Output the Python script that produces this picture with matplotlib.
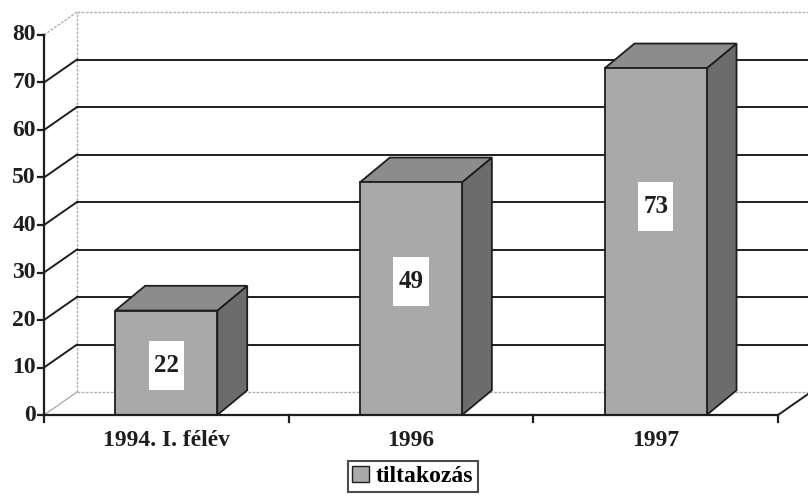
import matplotlib
matplotlib.use("Agg")
import matplotlib.pyplot as plt
from matplotlib.patches import Polygon, Rectangle, Patch

categories = ["1994. I. félév", "1996", "1997"]
values = [22, 49, 73]
series_name = "tiltakozás"
y_ticks = [0, 10, 20, 30, 40, 50, 60, 70, 80]

# 3d look, in data units (x: categories, y: values)
DX, DY = 0.135, 4.84      # depth of the back wall
BDX, BDY = 0.122, 5.2     # depth of the bars
BAR_W = 0.417

FRONT = "#a9a9a9"
TOP = "#8c8c8c"
SIDE = "#6c6c6c"
INK = "#1e1e1e"
FAINT = "#b0b0b0"

plt.rcParams["font.family"] = ["Liberation Serif", "DejaVu Serif"]
plt.rcParams["font.weight"] = "bold"

fig = plt.figure(figsize=(8.08, 4.98), dpi=100)
W, H = 808, 498
ax = fig.add_axes([44 / W, (H - 415) / H, (778 - 44) / W, (415 - 35) / H])
ax.set_xlim(0, 3)
ax.set_ylim(0, 80)
ax.axis("off")

kw = dict(clip_on=False)

# back wall and floor edges
ax.plot([DX, DX], [DY, 80 + DY], color=FAINT, lw=1, ls=(0, (2, 1)), **kw)
ax.plot([DX, 3 + DX + 0.2], [80 + DY, 80 + DY], color=FAINT, lw=1, ls=(0, (2, 1)), **kw)
ax.plot([DX, 3 + DX + 0.2], [DY, DY], color=FAINT, lw=1, ls=(0, (2, 1)), **kw)
ax.plot([0, DX], [0, DY], color=FAINT, lw=1, **kw)
ax.plot([0, DX], [80, 80 + DY], color=FAINT, lw=1, ls=(0, (2, 1)), **kw)
ax.plot([3, 3 + DX], [0, DY], color=INK, lw=1.4, **kw)

# gridlines: diagonal on the side wall, then across the back wall
for t in y_ticks[1:-1]:
    ax.plot([0, DX], [t, t + DY], color=INK, lw=1.4, **kw)
    ax.plot([DX, 3 + DX + 0.2], [t + DY, t + DY], color=INK, lw=1.4, **kw)

# bars
for i, v in enumerate(values):
    x0 = i + 0.5 - BAR_W / 2
    x1 = i + 0.5 + BAR_W / 2
    front = Polygon([(x0, 0), (x1, 0), (x1, v), (x0, v)], closed=True,
                    facecolor=FRONT, edgecolor=INK, lw=1.3, zorder=3, **kw)
    top = Polygon([(x0, v), (x1, v), (x1 + BDX, v + BDY), (x0 + BDX, v + BDY)], closed=True,
                  facecolor=TOP, edgecolor=INK, lw=1.3, zorder=3, **kw)
    side = Polygon([(x1, 0), (x1 + BDX, BDY), (x1 + BDX, v + BDY), (x1, v)], closed=True,
                   facecolor=SIDE, edgecolor=INK, lw=1.3, zorder=3, **kw)
    for p in (side, top, front):
        ax.add_patch(p)
    # white label box, a bit taller than wide
    ly = 0.653 * v - 3.86
    bw, bh = 0.145, 10.3
    ax.add_patch(Rectangle((i + 0.5 - bw / 2, ly - bh / 2), bw, bh,
                           facecolor="white", edgecolor="none", zorder=4, **kw))
    ax.text(i + 0.5, ly, str(v), ha="center", va="center", fontsize=18,
            color=INK, zorder=5)

# front axes
ax.plot([0, 0], [0, 80], color=INK, lw=1.6, zorder=4, **kw)
ax.plot([0, 3], [0, 0], color=INK, lw=1.6, zorder=4, **kw)
for t in y_ticks:
    ax.plot([-0.025, 0], [t, t], color=INK, lw=1.6, **kw)
    ax.text(-0.033, t, str(t), ha="right", va="center", fontsize=17, color=INK)
for k in range(4):
    ax.plot([k, k], [0, -1.4], color=INK, lw=1.6, **kw)

for i, c in enumerate(categories):
    ax.text(i + 0.5, -5.4, c, ha="center", va="center", fontsize=17, color=INK)

# legend
leg = fig.legend(handles=[Patch(facecolor=FRONT, edgecolor=INK, label=series_name)],
                 loc="upper center", bbox_to_anchor=(413 / W, (H - 461) / H),
                 frameon=True, fancybox=False, fontsize=17, handlelength=0.7,
                 handleheight=0.7, handletextpad=0.3, borderpad=0.2,
                 borderaxespad=0)
leg.get_frame().set_edgecolor(INK)
leg.get_frame().set_linewidth(1.5)

fig.savefig("out.png", dpi=100)
